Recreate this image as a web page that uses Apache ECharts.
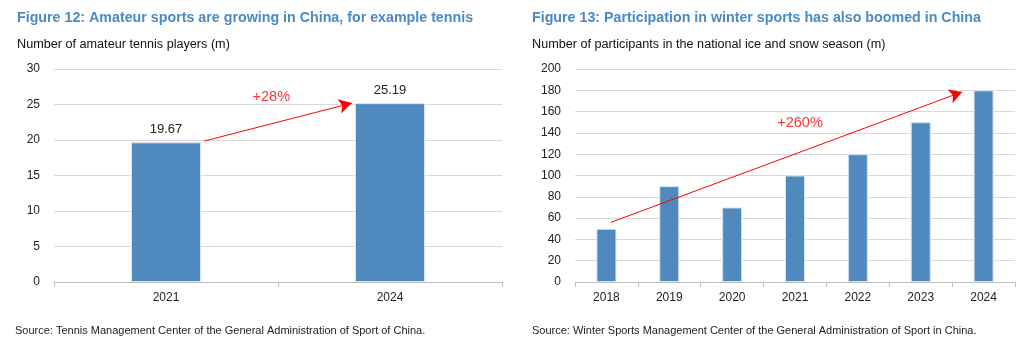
<!DOCTYPE html>
<html><head><meta charset="utf-8">
<script src="https://cdn.jsdelivr.net/npm/echarts@6/dist/echarts.min.js"></script>
<style>html,body{margin:0;padding:0;background:#fff}#c{width:1024px;height:350px}</style>
</head><body><div id="c"></div>
<script>
// Figure 12 data
const tennisYears = ['2021', '2024'];
const tennisPlayers = [19.67, 25.19];
const tennisTicks = [0, 5, 10, 15, 20, 25, 30];
const tennisArrow = [[0.17, 19.85], [0.83, 25.2]];
const tennisArrowLabel = ['+28%', 0.47, 26.1];

// Figure 13 data
const winterYears = ['2018', '2019', '2020', '2021', '2022', '2023', '2024'];
const winterParticipants = [50, 90, 70, 100, 120, 150, 180];
const winterTicks = [0, 20, 40, 60, 80, 100, 120, 140, 160, 180, 200];
const winterArrow = [[0.07, 56], [5.66, 178.5]];
const winterArrowLabel = ['+260%', 3.08, 149.5];

const FONT = '"Liberation Sans", Arial, sans-serif';
const BLUE = '#4f89bd';
const TITLE_BLUE = '#4a8ac6';

const chart = echarts.init(document.getElementById('c'), null, {renderer: 'canvas'});

function yAxis(grid, ticks) {
  return {
    type: 'value', gridIndex: grid, min: ticks[0], max: ticks[ticks.length - 1],
    interval: ticks[1] - ticks[0],
    axisLine: {show: false}, axisTick: {show: false},
    axisLabel: {color: '#222', fontFamily: FONT, fontSize: 12, margin: 14},
    splitLine: {lineStyle: {color: '#d9d9d9', width: 1}}
  };
}
function catAxis(grid, cats) {
  return {
    type: 'category', gridIndex: grid, data: cats,
    axisLine: {lineStyle: {color: '#bfbfbf'}},
    axisTick: {show: true, length: 5, lineStyle: {color: '#bfbfbf'}},
    axisLabel: {color: '#222', fontFamily: FONT, fontSize: 12, margin: 10}
  };
}
function hiddenX(grid, n) {
  return {type: 'value', gridIndex: grid, min: -0.5, max: n - 0.5, show: false};
}
function barSeries(i, data, width) {
  return {
    type: 'bar', xAxisIndex: i, yAxisIndex: i, data: data, barWidth: width,
    itemStyle: {color: BLUE, borderColor: '#d6e3f0', borderWidth: 1},
    label: {show: i === 0, position: 'top', distance: 6, color: '#222', fontFamily: FONT, fontSize: 13,
      formatter: p => p.value.toFixed(2)},
    silent: true
  };
}
function arrowSeries(xi, yi, arrow, lab) {
  return {
    type: 'scatter', xAxisIndex: xi, yAxisIndex: yi, symbolSize: 0, silent: true,
    data: [[lab[1], lab[2]]],
    label: {show: true, position: 'inside', formatter: lab[0], color: '#ff0000', fontFamily: FONT, fontSize: 14.5},
    markLine: {
      silent: true, symbol: ['none', 'arrow'], symbolSize: [11, 13],
      lineStyle: {color: '#ff0000', width: 1, type: 'solid'},
      label: {show: false},
      data: [[{coord: arrow[0]}, {coord: arrow[1]}]]
    }
  };
}

const titleStyle = {color: TITLE_BLUE, fontSize: 14.25, fontWeight: 'bold', fontFamily: FONT};
const subStyle = {color: '#111', fontSize: 12.65, fontWeight: 'normal', fontFamily: FONT};
const srcStyle = {color: '#222', fontSize: 11, fontWeight: 'normal', fontFamily: FONT};

chart.setOption({
  animation: false,
  textStyle: {fontFamily: FONT},
  title: [
    {text: 'Figure 12: Amateur sports are growing in China, for example tennis', left: 12, top: 6, textStyle: titleStyle},
    {text: 'Number of amateur tennis players (m)', left: 12, top: 33.5, textStyle: subStyle},
    {text: 'Figure 13: Participation in winter sports has also boomed in China', left: 527, top: 6, textStyle: titleStyle},
    {text: 'Number of participants in the national ice and snow season (m)', left: 527, top: 33.5, textStyle: subStyle},
    {text: 'Source: Tennis Management Center of the General Administration of Sport of China.', left: 10, top: 320, textStyle: srcStyle},
    {text: 'Source: Winter Sports Management Center of the General Administration of Sport in China.', left: 527, top: 320, textStyle: srcStyle}
  ],
  grid: [
    {left: 54, right: 522, top: 69, bottom: 68},
    {left: 575, right: 9, top: 69, bottom: 68}
  ],
  xAxis: [catAxis(0, tennisYears), catAxis(1, winterYears), hiddenX(0, tennisYears.length), hiddenX(1, winterYears.length)],
  yAxis: [yAxis(0, tennisTicks), yAxis(1, winterTicks)],
  series: [
    barSeries(0, tennisPlayers, 70),
    barSeries(1, winterParticipants, 20),
    arrowSeries(2, 0, tennisArrow, tennisArrowLabel),
    arrowSeries(3, 1, winterArrow, winterArrowLabel)
  ]
});
</script></body></html>
